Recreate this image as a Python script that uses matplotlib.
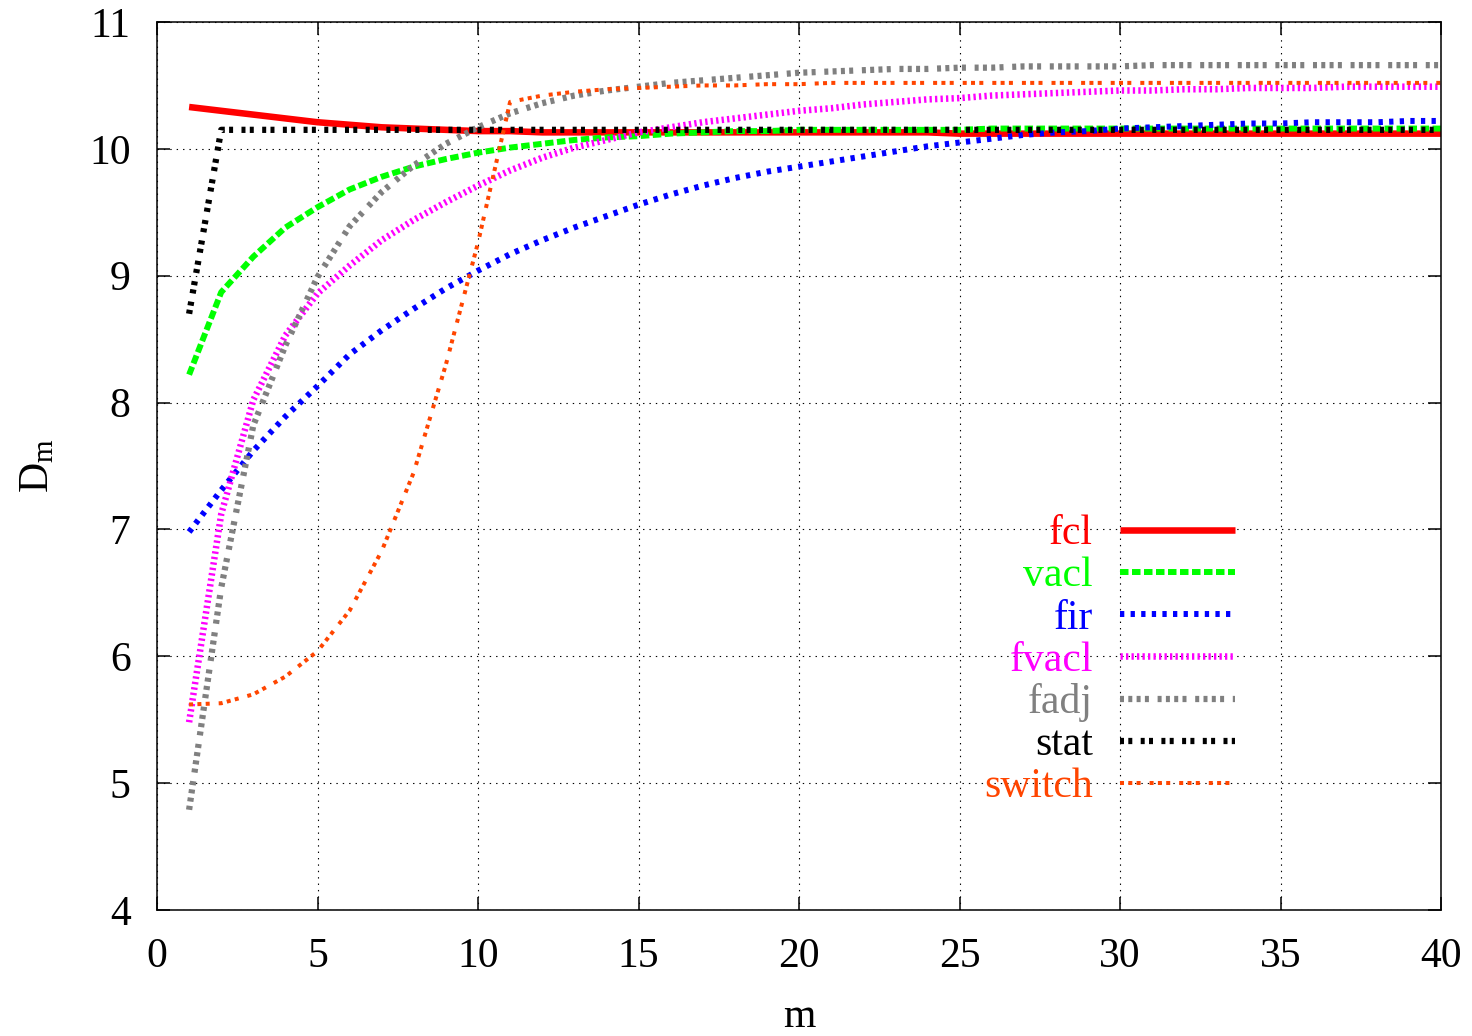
import numpy as np
import matplotlib
matplotlib.use("Agg")
import matplotlib.pyplot as plt

plt.rcParams["font.family"] = ["Liberation Serif", "DejaVu Serif"]
plt.rcParams["mathtext.fontset"] = "custom"
plt.rcParams["mathtext.rm"] = "Liberation Serif"
plt.rcParams["mathtext.it"] = "Liberation Serif:italic"
plt.rcParams["lines.scale_dashes"] = False

# ---- data ----
m = np.arange(1, 41)

fcl = [10.33, 10.30, 10.27, 10.24, 10.21, 10.19, 10.17, 10.16, 10.15, 10.14,
       10.14, 10.13, 10.13, 10.13, 10.13, 10.13, 10.13, 10.13, 10.13, 10.13,
       10.13, 10.13, 10.13, 10.13, 10.12, 10.12, 10.12, 10.12, 10.12, 10.12,
       10.12, 10.12, 10.12, 10.12, 10.12, 10.12, 10.12, 10.12, 10.12, 10.12]
vacl = [8.22, 8.87, 9.15, 9.38, 9.54, 9.68, 9.78, 9.86, 9.92, 9.97,
        10.01, 10.04, 10.07, 10.09, 10.10, 10.12, 10.13, 10.14, 10.14, 10.15,
        10.15, 10.15, 10.15, 10.15, 10.15, 10.16, 10.16, 10.16, 10.16, 10.16,
        10.16, 10.16, 10.16, 10.16, 10.16, 10.16, 10.16, 10.16, 10.16, 10.16]
fir = [6.98, 7.31, 7.62, 7.89, 8.13, 8.38, 8.57, 8.74, 8.90, 9.04,
       9.17, 9.28, 9.38, 9.47, 9.56, 9.64, 9.71, 9.77, 9.82, 9.86,
       9.90, 9.94, 9.98, 10.02, 10.05, 10.08, 10.11, 10.13, 10.14, 10.16,
       10.17, 10.18, 10.19, 10.20, 10.20, 10.21, 10.21, 10.21, 10.22, 10.22]
fvacl = [5.48, 7.12, 8.02, 8.53, 8.86, 9.08, 9.28, 9.44, 9.58, 9.71,
         9.83, 9.93, 10.01, 10.07, 10.13, 10.17, 10.21, 10.24, 10.27, 10.30,
         10.32, 10.35, 10.37, 10.39, 10.40, 10.42, 10.43, 10.44, 10.45, 10.46,
         10.46, 10.47, 10.47, 10.48, 10.48, 10.48, 10.49, 10.49, 10.49, 10.49]
fadj = [4.79, 6.54, 7.82, 8.45, 8.99, 9.39, 9.66, 9.87, 10.04, 10.17,
        10.28, 10.36, 10.42, 10.46, 10.49, 10.52, 10.54, 10.56, 10.58, 10.60,
        10.61, 10.62, 10.63, 10.63, 10.64, 10.64, 10.65, 10.65, 10.65, 10.65,
        10.66, 10.66, 10.66, 10.66, 10.66, 10.66, 10.66, 10.66, 10.66, 10.66]
stat = [8.70, 10.15, 10.15, 10.15, 10.15, 10.15, 10.15, 10.15, 10.15, 10.15,
        10.15, 10.15, 10.15, 10.15, 10.15, 10.15, 10.15, 10.15, 10.15, 10.15,
        10.15, 10.15, 10.15, 10.15, 10.15, 10.15, 10.15, 10.15, 10.15, 10.15,
        10.15, 10.15, 10.15, 10.15, 10.15, 10.15, 10.15, 10.15, 10.15, 10.15]
switch = [5.62, 5.63, 5.70, 5.84, 6.04, 6.36, 6.83, 7.45, 8.30, 9.26,
          10.37, 10.42, 10.45, 10.47, 10.48, 10.49, 10.50, 10.50, 10.51, 10.51,
          10.52, 10.52, 10.52, 10.52, 10.52, 10.52, 10.52, 10.52, 10.52, 10.52,
          10.52, 10.52, 10.52, 10.52, 10.52, 10.52, 10.52, 10.52, 10.52, 10.52]

labels = ["fcl", "vacl", "fir", "fvacl", "fadj", "stat", "switch"]
colors = ["#ff0000", "#00ff00", "#0000ff", "#ff00ff", "#808080", "#000000", "#ff4500"]

# px -> pt at 100 dpi
def pt(*px):
    return tuple(v * 0.72 for v in px)

styles = [
    dict(lw=4.7, ls="-"),
    dict(lw=4.3, ls=(0, pt(8.5, 3.5))),
    dict(lw=4.3, ls=(0, pt(4.3, 6.3))),
    dict(lw=4.7, ls=(0, pt(2.3, 3.2))),
    dict(lw=4.5, ls=(0, pt(4, 4.3, 4, 4.3, 4, 4.3, 4, 8.7))),
    dict(lw=4.5, ls=(0, pt(4, 4.3, 4, 8.4))),
    dict(lw=2.9, ls=(0, pt(4, 4.3, 4, 4.3, 4, 9))),
]

fig = plt.figure(figsize=(14.72, 10.36), dpi=100)
ax = fig.add_axes([0.10666, 0.12162, 0.87228, 0.85714])

series = [fcl, vacl, fir, fvacl, fadj, stat, switch]
for y, lab, c, st in zip(series, labels, colors, styles):
    ax.plot(m, y, color=c, label=lab, dash_capstyle="butt", solid_capstyle="butt", **st)

ax.set_xlim(0, 40)
ax.set_ylim(4, 11)
ax.set_xticks(range(0, 41, 5))
ax.set_yticks(range(4, 12))
ax.grid(True, color="black", lw=0.8, ls=(0, (1.0, 3.6)))
ax.set_axisbelow(True)
for s in ax.spines.values():
    s.set_linewidth(1.1)
ax.tick_params(direction="in", length=9.4, width=1.1, top=True, right=True,
               labelsize=30)
ax.tick_params(axis="x", pad=20)
ax.tick_params(axis="y", pad=19)

ax.set_xlabel("m", fontsize=30)
ax.set_ylabel(r"D$_\mathrm{m}$", fontsize=30)
ax.xaxis.set_label_coords(0.5, -0.0985)
ax.yaxis.set_label_coords(-0.0775, 0.5)

leg = ax.legend(loc="upper right", bbox_to_anchor=(0.8396, 0.445), frameon=False,
                fontsize=30, markerfirst=False, labelcolor="linecolor",
                handlelength=2.76, handletextpad=0.65, labelspacing=0.086,
                borderpad=0, borderaxespad=0)

fig.savefig("out.png", dpi=100)
